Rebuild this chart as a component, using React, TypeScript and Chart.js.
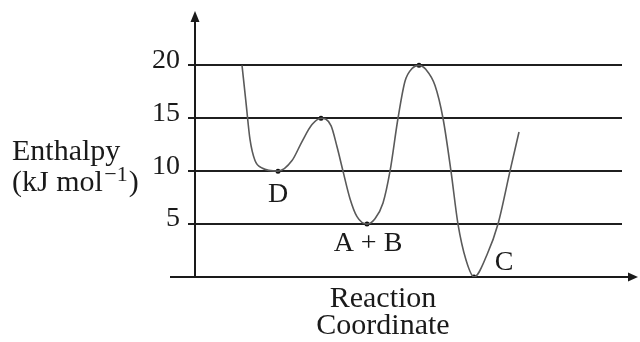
import React, { useEffect, useRef } from "react";
import { Chart, registerables } from "chart.js";

Chart.register(...registerables);

// Reaction coordinate (arbitrary units, 0–100) and enthalpy (kJ/mol)
const curveX = [11.01, 11.94, 12.88, 14.05, 15.69, 19.44, 22.72, 25.06, 27.4, 29.51, 31.85, 33.26, 34.66, 36.3, 37.94, 40.28, 42.15, 44.03, 45.67, 47.54, 49.18, 50.82, 52.46, 54.1, 56.21, 58.08, 59.95, 61.59, 63.47, 65.34, 68.38, 70.96, 73.77, 75.88];
const curveY = [20, 16.5, 13, 11, 10.3, 10, 11, 12.8, 14.4, 15, 14.3, 12.3, 10, 7.4, 5.7, 5, 5.5, 7.0, 10, 15, 18.5, 19.7, 20, 19.6, 18.1, 15, 10, 5, 1.6, 0, 2.1, 5, 10, 13.7];

// Stationary points
const pointX = [19.44, 29.51, 40.28, 52.46, 65.34];
const pointY = [10, 15, 5, 20, 0];
const pointLabels = ["D", "", "A + B", "", "C"];

const yTicks = [0, 5, 10, 15, 20];
const yTitle = "Enthalpy";
const yUnitMain = "(kJ mol";
const yUnitSup = "\u22121";
const xTitle = ["Reaction", "Coordinate"];

const SERIF = "'Liberation Serif', 'Times New Roman', serif";

export default function App() {
  const ref = useRef<HTMLCanvasElement | null>(null);

  useEffect(() => {
    if (!ref.current) return;

    const labelOffsets: Record<string, [number, number]> = {
      D: [0, 23],
      "A + B": [1, 20],
      C: [30, -14],
    };

    const decor = {
      id: "decor",
      beforeDatasetsDraw(chart: any) {
        const ctx = chart.ctx;
        const ca = chart.chartArea;
        const yb = chart.scales.y.getPixelForValue(0);
        ctx.save();
        ctx.strokeStyle = "#1a1a1a";
        ctx.fillStyle = "#1a1a1a";
        ctx.lineWidth = 2;
        // x axis
        ctx.beginPath();
        ctx.moveTo(170, yb);
        ctx.lineTo(630, yb);
        ctx.stroke();
        ctx.beginPath();
        ctx.moveTo(638, yb);
        ctx.lineTo(628, yb - 4.5);
        ctx.lineTo(628, yb + 4.5);
        ctx.closePath();
        ctx.fill();
        // y axis
        ctx.beginPath();
        ctx.moveTo(ca.left, yb + 1);
        ctx.lineTo(ca.left, 20);
        ctx.stroke();
        ctx.beginPath();
        ctx.moveTo(ca.left, 11);
        ctx.lineTo(ca.left - 4.5, 22);
        ctx.lineTo(ca.left + 4.5, 22);
        ctx.closePath();
        ctx.fill();
        ctx.restore();
      },
      afterDraw(chart: any) {
        const ctx = chart.ctx;
        const xs = chart.scales.x;
        const ys = chart.scales.y;
        ctx.save();
        ctx.fillStyle = "#1a1a1a";
        ctx.textBaseline = "middle";
        ctx.textAlign = "center";
        ctx.font = `28px ${SERIF}`;
        pointLabels.forEach((lab, i) => {
          if (!lab) return;
          const off = labelOffsets[lab] || [0, 20];
          ctx.fillText(lab, xs.getPixelForValue(pointX[i]) + off[0], ys.getPixelForValue(pointY[i]) + off[1]);
        });
        // x title
        ctx.textBaseline = "alphabetic";
        ctx.font = `30px ${SERIF}`;
        ctx.fillText(xTitle[0], 383, 307);
        ctx.fillText(xTitle[1], 383, 334);
        // y title
        ctx.textAlign = "left";
        ctx.fillText(yTitle, 12, 160);
        ctx.fillText(yUnitMain, 12, 191);
        let x = 12 + ctx.measureText(yUnitMain + " ").width - 6;
        ctx.font = `22px ${SERIF}`;
        ctx.fillText(yUnitSup, x, 181);
        x += ctx.measureText(yUnitSup).width + 1;
        ctx.font = `30px ${SERIF}`;
        ctx.fillText(")", x, 191);
        ctx.restore();
      },
    };

    const chart = new Chart(ref.current, {
      type: "line",
      data: {
        datasets: [
          {
            data: curveX.map((x, i) => ({ x, y: curveY[i] })),
            borderColor: "#5a5a5a",
            borderWidth: 1.6,
            pointRadius: 0,
            cubicInterpolationMode: "monotone",
            fill: false,
          },
          {
            data: pointX.map((x, i) => ({ x, y: pointY[i] })),
            showLine: false,
            pointRadius: 2.5,
            pointBackgroundColor: "#111",
            pointBorderWidth: 0,
          },
        ],
      } as any,
      options: {
        animation: false,
        responsive: false,
        devicePixelRatio: 1,
        layout: { padding: { left: 0, right: 18, top: 22, bottom: 65 } },
        plugins: {
          legend: { display: false },
          tooltip: { enabled: false },
        },
        scales: {
          x: { type: "linear", min: 0, max: 100, display: false },
          y: {
            type: "linear",
            min: 0,
            max: 23.83,
            afterFit: (s: any) => {
              s.width = 195;
            },
            afterBuildTicks: (s: any) => {
              s.ticks = yTicks.map((v) => ({ value: v }));
            },
            border: { display: false },
            grid: {
              color: "#1f1f1f",
              lineWidth: 2,
              drawTicks: true,
              tickLength: 7,
            },
            ticks: {
              padding: 8,
              labelOffset: -5,
              color: "#1a1a1a",
              font: { family: SERIF, size: 28 },
              callback: (v: any) => (v === 0 ? "" : String(v)),
            },
          },
        },
      } as any,
      plugins: [decor],
    });

    return () => chart.destroy();
  }, []);

  return (
    <div style={{ position: "absolute", left: 0, top: 0, width: 640, height: 342, background: "#fff" }}>
      <canvas ref={ref} width={640} height={342} />
    </div>
  );
}
